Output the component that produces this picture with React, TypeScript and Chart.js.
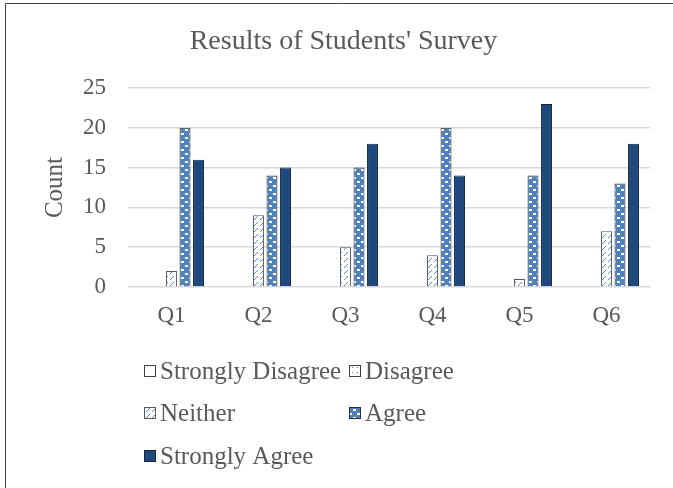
import React, { useEffect, useRef } from "react";
import { Chart, registerables } from "chart.js";

Chart.register(...registerables);

const categories = ["Q1", "Q2", "Q3", "Q4", "Q5", "Q6"];
const seriesNames = ["Strongly Disagree", "Disagree", "Neither", "Agree", "Strongly Agree"];
const stronglyDisagree = [0, 0, 0, 0, 0, 0];
const disagree = [0, 0, 0, 0, 0, 0];
const neither = [2, 9, 5, 4, 1, 7];
const agree = [20, 14, 15, 20, 14, 13];
const stronglyAgree = [16, 15, 18, 14, 23, 18];
const yTicks = [0, 5, 10, 15, 20, 25];
const chartTitle = "Results of Students' Survey";
const yTitle = "Count";

const FONT = "'Liberation Serif', 'Times New Roman', serif";
const TEXT = "#595959";
const BLUE = "#4F81BD";
const DARK = "#1F497D";

function tile(w: number, h: number, draw: (c: CanvasRenderingContext2D) => void) {
  const cv = document.createElement("canvas");
  cv.width = w;
  cv.height = h;
  const c = cv.getContext("2d")!;
  draw(c);
  return cv;
}

function makePatterns(ctx: CanvasRenderingContext2D) {
  const dots = tile(5, 5, (c) => {
    c.fillStyle = "#ffffff";
    c.fillRect(0, 0, 5, 5);
    c.fillStyle = BLUE;
    c.fillRect(2, 2, 1, 1);
  });
  const diag = tile(6, 6, (c) => {
    c.fillStyle = "#ffffff";
    c.fillRect(0, 0, 6, 6);
    c.fillStyle = "#5B8BD0";
    c.fillRect(5, 0, 1, 1);
    c.fillRect(4, 1, 1, 1);
    c.fillRect(3, 2, 1, 1);
    c.fillRect(2, 3, 1, 1);
  });
  const dashes = tile(8, 8, (c) => {
    c.fillStyle = BLUE;
    c.fillRect(0, 0, 8, 8);
    c.fillStyle = "#ffffff";
    c.fillRect(1, 1, 3, 2);
    c.fillRect(5, 5, 3, 2);
  });
  return {
    solidWhite: "#ffffff",
    dots: ctx.createPattern(dots, "repeat")!,
    diag: ctx.createPattern(diag, "repeat")!,
    dashes: ctx.createPattern(dashes, "repeat")!,
  };
}

const framePlugin = {
  id: "frame",
  afterLayout(chart: any) {
    // center the title the way the original frame does (frame extends past the right edge)
    if (chart.titleBlock) {
      chart.titleBlock.left = 37;
      chart.titleBlock.right = 650;
    }
  },
  beforeDraw(chart: any) {
    const ctx = chart.ctx as CanvasRenderingContext2D;
    ctx.save();
    ctx.fillStyle = "#ffffff";
    ctx.fillRect(0, 0, chart.width, chart.height);
    ctx.strokeStyle = "#404040";
    ctx.lineWidth = 1;
    ctx.beginPath();
    ctx.moveTo(5.5, chart.height);
    ctx.lineTo(5.5, 3.5);
    ctx.lineTo(chart.width, 3.5);
    ctx.stroke();
    ctx.restore();
  },
};

const gridLegendPlugin = {
  id: "gridLegend",
  afterDraw(chart: any) {
    const ctx = chart.ctx as CanvasRenderingContext2D;
    const cols = [144, 349];
    const rows = [371, 413, 456];
    ctx.save();
    ctx.font = `25px ${FONT}`;
    ctx.textBaseline = "middle";
    ctx.textAlign = "left";
    chart.data.datasets.forEach((ds: any, i: number) => {
      const x = cols[i % 2];
      const y = rows[Math.floor(i / 2)];
      const s = 12;
      ctx.fillStyle = ds.backgroundColor;
      ctx.fillRect(x, y - s / 2, s, s);
      ctx.strokeStyle = ds.borderColor;
      ctx.lineWidth = 1;
      ctx.strokeRect(x + 0.5, y - s / 2 + 0.5, s - 1, s - 1);
      ctx.fillStyle = TEXT;
      ctx.fillText(ds.label, x + 16, y + 1);
    });
    ctx.restore();
  },
};

export default function App() {
  const ref = useRef<HTMLCanvasElement | null>(null);

  useEffect(() => {
    const canvas = ref.current!;
    const ctx = canvas.getContext("2d")!;
    const p = makePatterns(ctx);
    const common = { categoryPercentage: 0.776, barPercentage: 0.81, borderWidth: 1 };
    const chart = new Chart(canvas, {
      type: "bar",
      data: {
        labels: categories,
        datasets: [
          { label: seriesNames[0], data: stronglyDisagree, backgroundColor: p.solidWhite, borderColor: "#404040", ...common },
          { label: seriesNames[1], data: disagree, backgroundColor: p.dots, borderColor: "#404040", ...common },
          { label: seriesNames[2], data: neither, backgroundColor: p.diag, borderColor: "#595959", ...common },
          { label: seriesNames[3], data: agree, backgroundColor: p.dashes, borderColor: "#303030", ...common },
          { label: seriesNames[4], data: stronglyAgree, backgroundColor: DARK, borderColor: "#10263f", ...common },
        ] as any,
      },
      options: {
        animation: false,
        responsive: false,
        devicePixelRatio: 1,
        layout: { padding: { left: 0, right: 23, top: 0, bottom: 0 } },
        plugins: {
          legend: { display: false },
          tooltip: { enabled: false },
          title: {
            display: true,
            text: chartTitle,
            color: TEXT,
            font: { family: FONT, size: 28, weight: "normal" },
            padding: { top: 25, bottom: 29.4 },
          },
        },
        scales: {
          x: {
            grid: { display: false, drawTicks: false },
            border: { display: false },
            ticks: { color: TEXT, font: { family: FONT, size: 23 }, padding: 15 },
            afterFit: (s: any) => {
              s.height = 488 - 287;
            },
          },
          y: {
            min: 0,
            max: 25,
            afterBuildTicks: (s: any) => {
              s.ticks = yTicks.map((v) => ({ value: v }));
            },
            ticks: { color: TEXT, font: { family: FONT, size: 23 }, padding: 22 },
            grid: { color: "#d9d9d9", lineWidth: 1.5, drawTicks: false },
            border: { display: false },
            title: {
              display: true,
              text: yTitle,
              color: TEXT,
              font: { family: FONT, size: 25 },
              padding: { top: 40, bottom: 0 },
            },
            afterFit: (s: any) => {
              s.width = 128;
            },
          },
        },
      } as any,
      plugins: [framePlugin, gridLegendPlugin],
    });
    return () => chart.destroy();
  }, []);

  return (
    <div style={{ position: "absolute", left: 0, top: 0, width: 673, height: 488, background: "#fff" }}>
      <canvas ref={ref} width={673} height={488} style={{ display: "block", width: 673, height: 488 }} />
    </div>
  );
}
